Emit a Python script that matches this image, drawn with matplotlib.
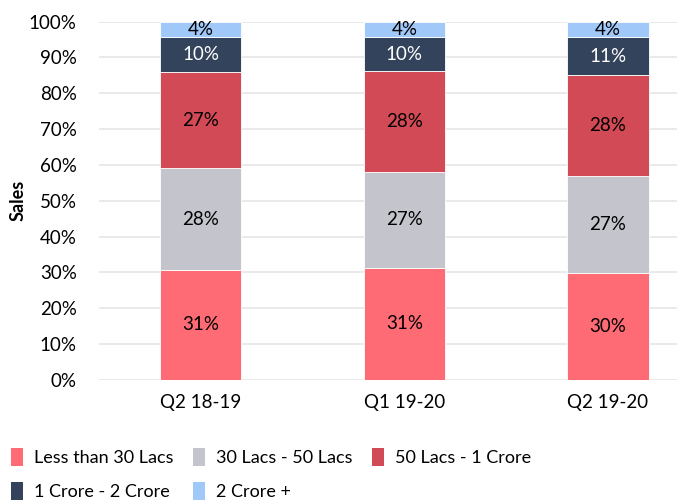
import numpy as np
import matplotlib.pyplot as plt
from matplotlib.ticker import PercentFormatter
from matplotlib.patches import Patch

plt.rcParams['font.family'] = ['Lato', 'DejaVu Sans']

# datos (% de ventas por rango de precio)
trimestres = ["Q2 18-19", "Q1 19-20", "Q2 19-20"]
rangos = ["Less than 30 Lacs", "30 Lacs - 50 Lacs", "50 Lacs - 1 Crore",
          "1 Crore - 2 Crore", "2 Crore +"]
menos_30 = [30.6, 31.2, 29.9]
lacs_30_50 = [28.4, 26.9, 26.9]
lacs_50_1cr = [27.0, 28.1, 28.3]
cr_1_2 = [9.6, 9.5, 10.6]
cr_2_mas = [4.4, 4.3, 4.3]

colores = ["#FF6B74", "#C3C4CC", "#D24A55", "#33435C", "#A0C8F8"]
color_texto = ["black", "black", "black", "white", "black"]

series = [menos_30, lacs_30_50, lacs_50_1cr, cr_1_2, cr_2_mas]

fig = plt.figure(figsize=(6.89, 5.01), dpi=100)
ax = fig.add_axes([0.1437, 0.2421, 0.8389, 0.7146])

x = np.arange(len(trimestres))
base = np.zeros(len(trimestres))
for vals, col, tc in zip(series, colores, color_texto):
    vals = np.array(vals)
    ax.bar(x, vals, width=0.4, bottom=base, color=col, edgecolor="white",
           linewidth=0.6, zorder=2)
    for xi, b, v in zip(x, base, vals):
        ax.text(xi, b + v / 2, f"{v:.0f}%", ha="center", va="center",
                fontsize=13.5, color=tc, zorder=3)
    base = base + vals

ax.set_ylim(0, 100)
ax.set_xlim(-0.5, 2.34)
ax.set_yticks(np.arange(0, 101, 10))
ax.yaxis.set_major_formatter(PercentFormatter(decimals=0))
ax.set_xticks(x)
ax.set_xticklabels(trimestres)
ax.tick_params(axis="both", length=0, labelsize=13.5)
ax.tick_params(axis="x", pad=10)
ax.tick_params(axis="y", pad=16)
ax.grid(axis="y", color="#E6E6E6", linewidth=1.2, zorder=0)
for s in ax.spines.values():
    s.set_visible(False)
ax.set_ylabel("Sales", fontsize=13, fontweight="bold", labelpad=2)

# leyenda por filas: matplotlib llena por columnas, asi que se reordena
orden = [0, 3, 1, 4, 2]
handles = [Patch(facecolor=colores[i], edgecolor="none") for i in orden]
etiquetas = [rangos[i] for i in orden]
fig.legend(handles, etiquetas, ncol=3, loc="lower left", bbox_to_anchor=(-0.008, -0.03),
           frameon=False, fontsize=13, handlelength=0.7, handleheight=1.15,
           handletextpad=0.6, columnspacing=1.05, labelspacing=0.85)

fig.savefig("out.png", dpi=100)
